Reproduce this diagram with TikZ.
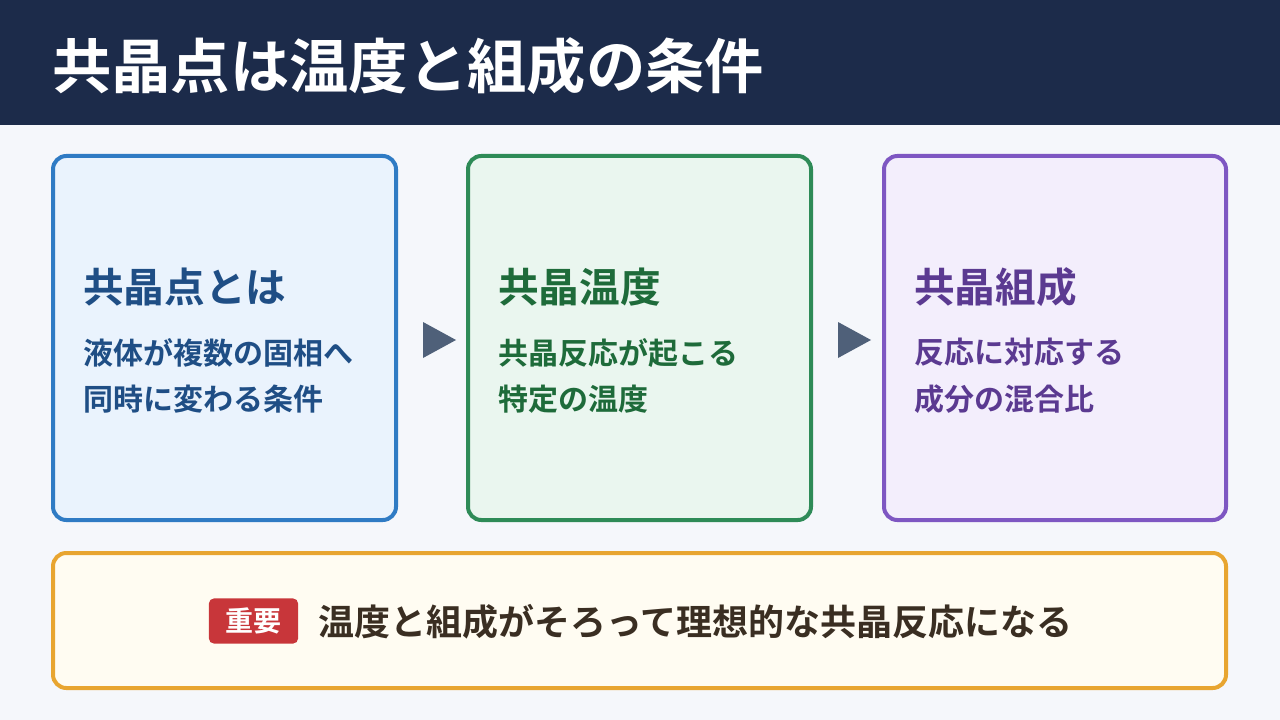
\documentclass[tikz,border=0pt]{standalone}
\usepackage{fontspec}
\setmainfont{Noto Sans CJK JP}[BoldFont={* Bold}]
\definecolor{navy}{HTML}{1C2B4A}
\definecolor{bg}{HTML}{F5F7FB}
\definecolor{bA}{HTML}{2F7BC4}\definecolor{fA}{HTML}{EAF3FD}\definecolor{tA}{HTML}{1F4E85}
\definecolor{bB}{HTML}{2E8B57}\definecolor{fB}{HTML}{EAF6EF}\definecolor{tB}{HTML}{1E6B3A}
\definecolor{bC}{HTML}{7E57C2}\definecolor{fC}{HTML}{F3EEFC}\definecolor{tC}{HTML}{5B3A91}
\definecolor{bO}{HTML}{E8A530}\definecolor{fO}{HTML}{FFFCF2}
\definecolor{badge}{HTML}{C8363A}\definecolor{tO}{HTML}{3A2E22}
\definecolor{arr}{HTML}{4F6079}
\begin{document}
\begin{tikzpicture}[x=0.75pt,y=-0.75pt,
  card/.style={line width=3pt,rounded corners=10pt},
  head/.style={anchor=west,font=\bfseries\fontsize{30.5}{36}\selectfont,inner sep=0},
  body/.style={anchor=west,font=\bfseries\fontsize{22.5}{35}\selectfont,inner sep=0,align=left},
  tri/.style={fill=arr}]
\fill[bg] (0,0) rectangle (1280,720);
\fill[navy] (0,0) rectangle (1280,125);
\useasboundingbox (0,0) rectangle (1280,720);
\node[anchor=west,text=white,font=\bfseries\fontsize{44.5}{50}\selectfont,inner sep=0] (title) at (52,66) {共晶点は温度と組成の条件};
\draw[card,draw=bA,fill=fA] (53,156) rectangle (396,520);
\draw[card,draw=bB,fill=fB] (468,156) rectangle (811,520);
\draw[card,draw=bC,fill=fC] (884,156) rectangle (1226,520);
\node[head,text=tA] (h1) at (83,287) {共晶点とは};
\node[head,text=tB] (h2) at (498,287) {共晶温度};
\node[head,text=tC] (h3) at (914,287) {共晶組成};
\node[body,text=tA] (b1) at (83,376) {液体が複数の固相へ\\同時に変わる条件};
\node[body,text=tB] (b2) at (498,376) {共晶反応が起こる\\特定の温度};
\node[body,text=tC] (b3) at (914,376) {反応に対応する\\成分の混合比};
\fill[tri] (423,322) -- (456,340) -- (423,358) -- cycle;
\fill[tri] (838,322) -- (871,340) -- (838,358) -- cycle;
\draw[card,draw=bO,fill=fO] (53,553) rectangle (1226,688);
\node[fill=badge,rounded corners=4pt,text=white,font=\bfseries\fontsize{21}{24}\selectfont,minimum width=67pt,minimum height=34pt,inner sep=0] (bd) at (253.5,621) {重要};
\node[anchor=west,text=tO,font=\bfseries\fontsize{27}{30}\selectfont,inner sep=0] (msg) at (318,622) {温度と組成がそろって理想的な共晶反応になる};
\end{tikzpicture}
\end{document}
